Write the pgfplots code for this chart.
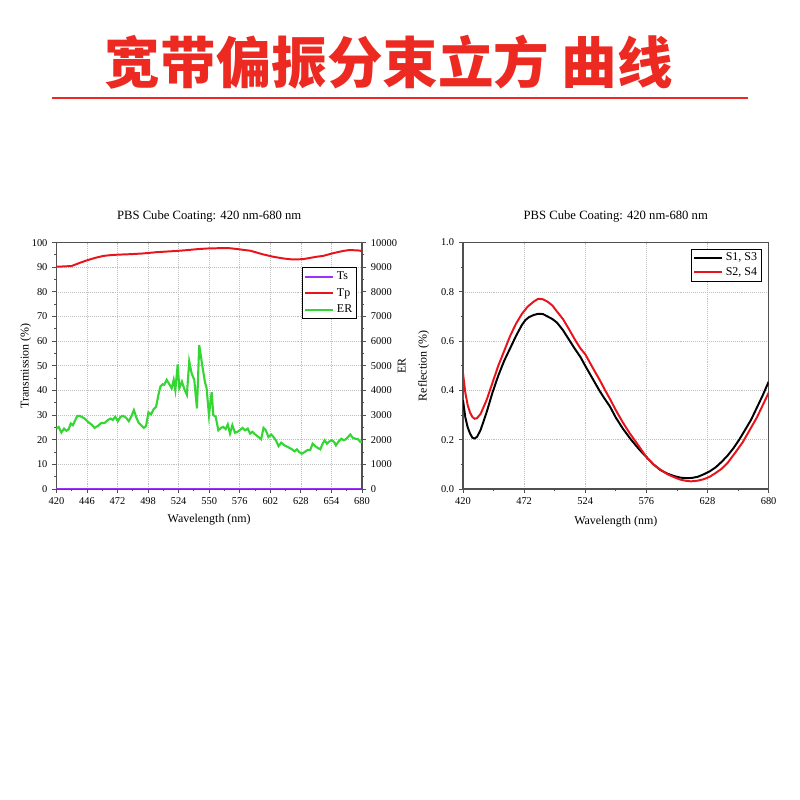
\documentclass[border=0pt]{standalone}
\usepackage{fontspec}
\setmainfont{Liberation Serif}
\newfontfamily\cjk{Noto Sans CJK SC}
\usepackage{pgfplots}
\pgfplotsset{compat=1.18}
\definecolor{titlered}{HTML}{EC2A22}
\definecolor{tscol}{HTML}{9B30FF}
\definecolor{tpcol}{HTML}{E8141B}
\definecolor{ercol}{HTML}{33D633}
\definecolor{spine}{HTML}{505050}

\pgfplotsset{
  pbs/.style={
    scale only axis,
    width=7.64cm, height=6.16cm,
    xmin=420, xmax=680,
    axis line style={draw=spine, line width=0.8pt},
    tick style={draw=spine, line width=0.6pt},
    tick align=outside,
    major tick length=0.1cm, minor tick length=0.06cm,
    grid=major,
    grid style={densely dotted, black!25, line width=0.5pt},
    ticklabel style={font=\fontsize{7.4}{8}\selectfont},
    label style={font=\fontsize{8.5}{10}\selectfont},
    /pgf/number format/assume math mode=true,
    /pgf/number format/1000 sep={},
    scaled ticks=false,
    xtick pos=left,
    xlabel={Wavelength (nm)},
    title style={font=\fontsize{9}{10}\selectfont, at={(0.5,1)}, anchor=base, yshift=0.375cm},
    legend style={draw=black, line width=0.5pt, font=\fontsize{8.5}{9}\selectfont,
      inner sep=1pt, row sep=-1pt, cells={anchor=west}},
    legend image code/.code={\draw[#1] (0cm,0cm) -- (0.7cm,0cm);},
  }
}

\begin{document}
\begin{tikzpicture}
\fill[white] (0,0) rectangle (20,20);
\useasboundingbox (0,0) rectangle (20,20);

\node[text=titlered, font=\cjk\bfseries\fontsize{39.5}{42}\selectfont] at (9.725,18.45) {宽带偏振分束立方 曲线};
\draw[titlered, line width=1.8pt] (1.3,17.55) -- (18.7,17.55);

% left chart: transmission and extinction ratio
\begin{axis}[pbs,
  at={(1.41cm,7.775cm)}, anchor=south west,
  ymin=0, ymax=100,
  xtick={420,446,...,680}, minor x tick num=1,
  ytick={0,10,...,100}, minor y tick num=1,
  ytick pos=left,
  title={PBS Cube Coating: 420 nm-680 nm},
  ylabel={Transmission (\%)},
  xlabel style={at={(axis description cs:0.5,-0.126)}, anchor=center},
  ylabel style={at={(axis description cs:-0.1005,0.5)}, anchor=center},
]
\addplot[tscol, line width=1.4pt] coordinates {(420,0.2) (680,0.2)};
\addplot[tpcol, line width=1.4pt] coordinates {
  (420,90.2) (425,90.3) (433,90.5) (440,91.8) (446,92.8) (453,93.8) (460,94.6)
  (466,94.9) (472,95.1) (483,95.3) (494,95.6) (505,96.1) (515,96.4) (522,96.6)
  (530,96.9) (539,97.3) (548,97.6) (556,97.7) (562,97.8) (568,97.7) (575,97.3)
  (585,96.7) (596,95.2) (605,94.2) (614,93.5) (620,93.2) (625,93.2) (630,93.3)
  (636,93.8) (642,94.3) (647,94.6) (653,95.4) (659,96.1) (664,96.6) (668,96.9)
  (673,96.9) (677,96.8) (680,96.6)
};
\end{axis}

\begin{axis}[pbs,
  at={(1.41cm,7.775cm)}, anchor=south west,
  axis x line=none, axis y line*=right,
  grid=none,
  ymin=0, ymax=10000,
  ytick={0,1000,...,10000}, minor y tick num=1,
  ylabel={ER},
  ylabel style={at={(axis description cs:1.130,0.5)}, anchor=center, rotate=0},
  legend style={at={(0.983,0.90)}, anchor=north east, row sep=0.6pt},
]
\addlegendimage{tscol, line width=1.4pt}
\addlegendentry{Ts}
\addlegendimage{tpcol, line width=1.4pt}
\addlegendentry{Tp}
\addplot[ercol, line width=1.5pt] coordinates {
  (420,2450) (422,2520) (424.2,2290) (426.5,2450) (428.5,2360) (430.5,2430)
  (432.2,2660) (434.1,2590) (436.1,2800) (437.8,2970) (439.8,2970) (441.8,2920)
  (444,2860) (446.8,2730) (449.7,2620) (452.5,2480) (455.3,2560) (458.2,2680)
  (461,2680) (463.8,2800) (466.1,2860) (468,2800) (470,2930) (472.3,2750)
  (474.5,2930) (476.8,2970) (479.3,2890) (481.6,2750) (483.6,2930) (485.9,3200)
  (487.8,2930) (489.8,2700) (492.1,2590) (494.3,2480) (496.3,2560) (498.3,3110)
  (500.5,3030) (502.8,3240) (504.8,3340) (506.8,3820) (508.5,4160) (510.4,4250)
  (511.8,4230) (513.8,4430) (516.1,4250) (518.1,4090) (519.8,4430) (521.2,4020)
  (523.2,5050) (524.6,4090) (526.8,4360) (528.8,4060) (531,3820) (533,5180)
  (535,4700) (537.3,4430) (539.6,3270) (541.5,5840) (543.8,5110) (546.3,4360)
  (547.8,4090) (549.8,3000) (552.1,3930) (553.5,3000) (555.5,2930) (557.8,2380)
  (560,2480) (562,2520) (564,2430) (565.8,2620) (567.7,2250) (569.7,2590)
  (572,2280) (574.8,2340) (578.3,2480) (580.5,2380) (582.8,2450) (584.8,2250)
  (586.8,2320) (589,2220) (591.9,2110) (594.2,2020) (596.2,2480) (598.2,2380)
  (600.4,2110) (602.7,2210) (604.7,2110) (606.7,1980) (609,1740) (611.3,1880)
  (614.1,1770) (617,1700) (619.8,1630) (622.7,1530) (624.6,1610) (626.6,1500)
  (628.9,1430) (631.1,1500) (634,1590) (636,1590) (638,1840) (640.2,1740)
  (642.5,1660) (644.5,1610) (646.5,1840) (648.2,1980) (650.2,1840) (652.2,1930)
  (654.4,1980) (656.7,1880) (657.8,1770) (660.1,1930) (662.4,2040) (664.4,1980)
  (666.4,2020) (668.1,2110) (670.1,2210) (672.1,2080) (674.4,2040) (676.6,2020)
  (678.6,1910) (680,1930)
};
\addlegendentry{ER}
\end{axis}

% right chart: reflection
\begin{axis}[pbs,
  at={(11.575cm,7.775cm)}, anchor=south west,
  ymin=0, ymax=1,
  xtick={420,472,...,680}, minor x tick num=1,
  ytick={0,0.2,...,1.0}, minor y tick num=1,
  ytick pos=left,
  yticklabel style={/pgf/number format/.cd, fixed, fixed zerofill, precision=1},
  title={PBS Cube Coating: 420 nm-680 nm},
  ylabel={Reflection (\%)},
  xlabel style={at={(axis description cs:0.5,-0.133)}, anchor=center},
  ylabel style={at={(axis description cs:-0.129,0.5)}, anchor=center},
  legend style={at={(0.977,0.976)}, anchor=north east},
]
\addplot[black, line width=1.4pt] coordinates {
  (420,0.36) (422,0.29) (424,0.25) (426,0.225) (428,0.208) (430,0.205) (432,0.212)
  (435,0.24) (440,0.31) (445,0.39) (450,0.46) (455,0.52) (460,0.57) (465,0.62)
  (470,0.665) (473,0.685) (476,0.697) (480,0.706) (484,0.711) (488,0.71) (492,0.70)
  (496,0.69) (500,0.675) (505,0.645) (511,0.60) (515,0.57) (520,0.535) (524,0.50)
  (530,0.45) (536,0.40) (540,0.37) (545,0.335) (550,0.29) (556,0.245) (563,0.20)
  (570,0.16) (576,0.13) (582,0.10) (588,0.077) (594,0.062) (600,0.052) (605,0.046)
  (610,0.044) (615,0.045) (620,0.05) (625,0.06) (630,0.072) (635,0.088) (640,0.11)
  (645,0.135) (650,0.165) (655,0.20) (660,0.24) (665,0.28) (670,0.33) (675,0.38)
  (680,0.435)
};
\addlegendentry{S1, S3}
\addplot[tpcol, line width=1.4pt] coordinates {
  (420,0.47) (422,0.39) (424,0.34) (426,0.31) (428,0.292) (430,0.285) (432,0.288)
  (435,0.305) (440,0.36) (445,0.43) (450,0.50) (455,0.56) (460,0.62) (465,0.67)
  (470,0.71) (475,0.74) (480,0.76) (484,0.772) (488,0.77) (492,0.76) (496,0.745)
  (500,0.72) (505,0.69) (510,0.65) (516,0.60) (520,0.57) (524,0.547) (530,0.495)
  (536,0.445) (541,0.40) (545,0.366) (550,0.32) (556,0.27) (562,0.225) (568,0.185)
  (576,0.13) (582,0.10) (588,0.078) (594,0.06) (600,0.047) (605,0.038) (610,0.033)
  (614,0.031) (620,0.034) (625,0.04) (630,0.05) (635,0.065) (640,0.082) (645,0.105)
  (652,0.15) (658,0.19) (664,0.24) (670,0.29) (675,0.34) (680,0.39)
};
\addlegendentry{S2, S4}
\end{axis}
\end{tikzpicture}
\end{document}
